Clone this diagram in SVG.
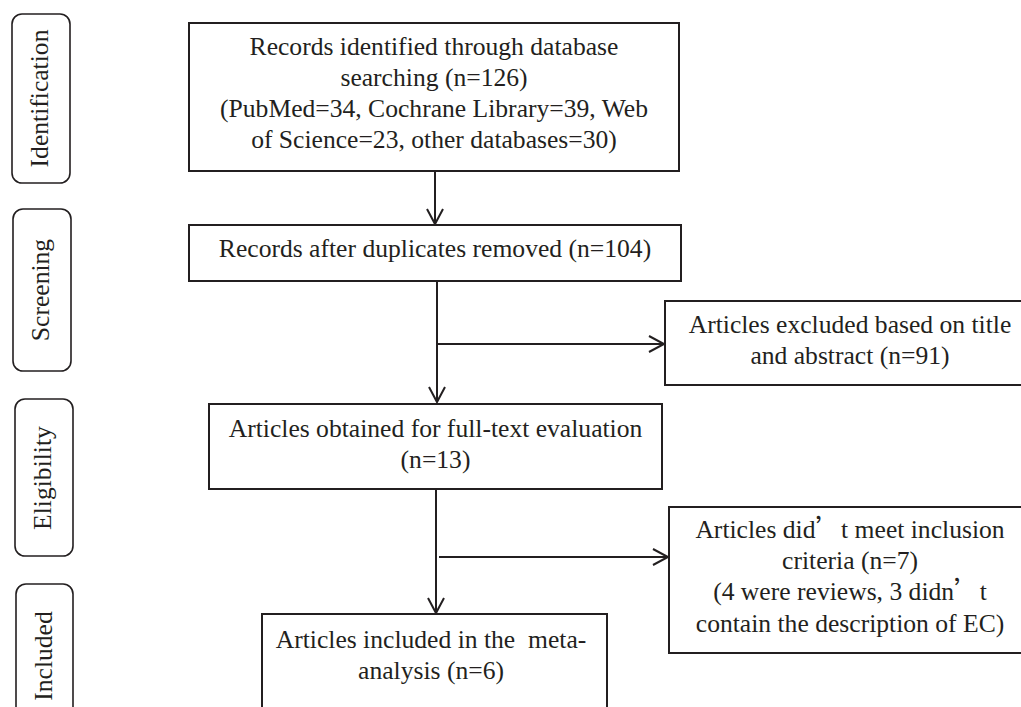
<svg xmlns="http://www.w3.org/2000/svg" width="1021" height="707" viewBox="0 0 1021 707">
<style>
text{font-size:25.6px;fill:#231f20;text-anchor:middle}
.box{fill:#fff;stroke:#231f20;stroke-width:2}
.stage{fill:#fff;stroke:#231f20;stroke-width:1.6}
.cn{fill:none;stroke:#231f20;stroke-width:2}
</style>
<defs>
<marker id="ah" markerUnits="userSpaceOnUse" markerWidth="20" markerHeight="20" viewBox="-17 -10 20 20" refX="0" refY="0" orient="auto">
<path d="M-15,-8 L0,0 L-15,8" fill="none" stroke="#231f20" stroke-width="2"/>
</marker>
</defs>
<rect width="1021" height="707" fill="#fff"/>
<g font-family="'Liberation Serif', 'DejaVu Serif', serif">
<g id="stage-identification">
<rect class="stage" x="12" y="14" width="58" height="169" rx="10"/>
<text transform="translate(48,98.5) rotate(-90)">Identification</text>
</g>
<g id="stage-screening">
<rect class="stage" x="13" y="209" width="58" height="162" rx="10"/>
<text transform="translate(49,290) rotate(-90)">Screening</text>
</g>
<g id="stage-eligibility">
<rect class="stage" x="15" y="399" width="58" height="157" rx="10"/>
<text transform="translate(51,478) rotate(-90)">Eligibility</text>
</g>
<g id="stage-included">
<rect class="stage" x="16" y="584" width="57" height="160" rx="10"/>
<text transform="translate(52,656) rotate(-90)">Included</text>
</g>
<g id="connectors">
<line class="cn" x1="435" y1="171" x2="435" y2="224" marker-end="url(#ah)"/>
<line class="cn" x1="437" y1="281" x2="437" y2="402" marker-end="url(#ah)"/>
<line class="cn" x1="437" y1="344" x2="664" y2="344" marker-end="url(#ah)"/>
<line class="cn" x1="436" y1="489" x2="436" y2="613" marker-end="url(#ah)"/>
<line class="cn" x1="439" y1="557" x2="668" y2="557" marker-end="url(#ah)"/>
</g>
<g id="node-identified">
<rect class="box" x="189" y="23" width="490" height="148"/>
<text x="434" y="55">Records identified through database</text>
<text x="434" y="86">searching (n=126)</text>
<text x="434" y="117">(PubMed=34, Cochrane Library=39, Web</text>
<text x="434" y="148">of Science=23, other databases=30)</text>
</g>
<g id="node-duplicates">
<rect class="box" x="189" y="225" width="492" height="56"/>
<text x="435" y="257">Records after duplicates removed (n=104)</text>
</g>
<g id="node-excluded">
<rect class="box" x="665" y="301" width="370" height="84"/>
<text x="850" y="333">Articles excluded based on title</text>
<text x="850" y="364">and abstract (n=91)</text>
</g>
<g id="node-fulltext">
<rect class="box" x="209" y="404" width="453" height="85"/>
<text x="435.5" y="437">Articles obtained for full-text evaluation</text>
<text x="435.5" y="468">(n=13)</text>
</g>
<g id="node-notmeet">
<rect class="box" x="669" y="507" width="362" height="146"/>
<text x="850" y="538">Articles did<tspan font-family="'Noto Sans CJK SC', sans-serif">’</tspan>t meet inclusion</text>
<text x="850" y="569">criteria (n=7)</text>
<text x="850" y="600">(4 were reviews, 3 didn<tspan font-family="'Noto Sans CJK SC', sans-serif">’</tspan>t</text>
<text x="850" y="632">contain the description of EC)</text>
</g>
<g id="node-included">
<rect class="box" x="262" y="614" width="345" height="120"/>
<text x="431" y="648" xml:space="preserve">Articles included in the  meta-</text>
<text x="431" y="679">analysis (n=6)</text>
</g>
</g>
</svg>
